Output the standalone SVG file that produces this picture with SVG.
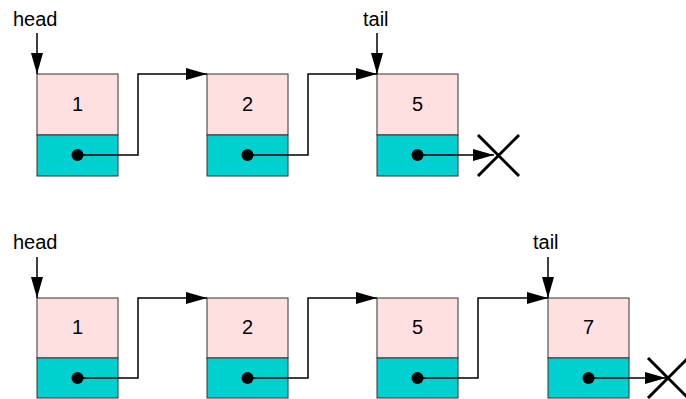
<svg xmlns="http://www.w3.org/2000/svg" width="686" height="399" viewBox="0 0 686 399">
<defs>
<marker id="ah" markerWidth="22" markerHeight="12" refX="21" refY="6" orient="auto" markerUnits="userSpaceOnUse">
<path d="M0,0 L21,6 L0,12 Z" fill="#000"/>
</marker>
<style>
.top{fill:#ffe0e0;stroke:#333;stroke-width:1}
.bot{fill:#00d0d0;stroke:#333;stroke-width:1}
.t{font-family:"Liberation Sans",Arial,sans-serif;font-size:20px;fill:#000}
.n{font-family:"Liberation Sans",Arial,sans-serif;font-size:20px;fill:#000;text-anchor:middle}
.c{fill:none;stroke:#000;stroke-width:1.5}
.x{stroke:#000;stroke-width:3}
</style>
</defs>
<g id="labels">
<text class="t" x="13" y="26">head</text>
<text class="t" x="363" y="26">tail</text>
<text class="t" x="13" y="249">head</text>
<text class="t" x="533" y="249">tail</text>
</g>
<g id="row1-node1"><rect class="top" x="37" y="74" width="81" height="61"/><rect class="bot" x="37" y="135" width="81" height="41"/><text class="n" x="77.5" y="111">1</text><circle cx="77.5" cy="155" r="6"/></g>
<g id="row1-node2"><rect class="top" x="207" y="74" width="81" height="61"/><rect class="bot" x="207" y="135" width="81" height="41"/><text class="n" x="247.5" y="111">2</text><circle cx="247.5" cy="155" r="6"/></g>
<g id="row1-node3"><rect class="top" x="377" y="74" width="81" height="61"/><rect class="bot" x="377" y="135" width="81" height="41"/><text class="n" x="417.5" y="111">5</text><circle cx="417.5" cy="155" r="6"/></g>
<g id="row1-null"><line class="x" x1="478" y1="135" x2="519" y2="176"/><line class="x" x1="519" y1="135" x2="478" y2="176"/></g>
<g id="row2-node1"><rect class="top" x="37" y="298" width="81" height="60"/><rect class="bot" x="37" y="358" width="81" height="40"/><text class="n" x="77.5" y="334">1</text><circle cx="77.5" cy="378" r="6"/></g>
<g id="row2-node2"><rect class="top" x="207" y="298" width="81" height="60"/><rect class="bot" x="207" y="358" width="81" height="40"/><text class="n" x="247.5" y="334">2</text><circle cx="247.5" cy="378" r="6"/></g>
<g id="row2-node3"><rect class="top" x="377" y="298" width="81" height="60"/><rect class="bot" x="377" y="358" width="81" height="40"/><text class="n" x="417.5" y="334">5</text><circle cx="417.5" cy="378" r="6"/></g>
<g id="row2-node4"><rect class="top" x="548" y="298" width="81" height="60"/><rect class="bot" x="548" y="358" width="81" height="40"/><text class="n" x="588.5" y="334">7</text><circle cx="588.5" cy="378" r="6"/></g>
<g id="row2-null"><line class="x" x1="648" y1="358" x2="688" y2="398"/><line class="x" x1="688" y1="358" x2="648" y2="398"/></g>
<g id="connectors">
<path class="c" d="M37,33 V74" marker-end="url(#ah)"/>
<path class="c" d="M377,33 V74" marker-end="url(#ah)"/>
<path class="c" d="M77.5,155 H138 V74 H207" marker-end="url(#ah)"/>
<path class="c" d="M247.5,155 H308 V74 H377" marker-end="url(#ah)"/>
<path class="c" d="M417.5,155 H494" marker-end="url(#ah)"/>
<path class="c" d="M37,257 V298" marker-end="url(#ah)"/>
<path class="c" d="M548,257 V298" marker-end="url(#ah)"/>
<path class="c" d="M77.5,378 H138 V298 H207" marker-end="url(#ah)"/>
<path class="c" d="M247.5,378 H308 V298 H377" marker-end="url(#ah)"/>
<path class="c" d="M417.5,378 H478 V298 H548" marker-end="url(#ah)"/>
<path class="c" d="M588.5,378 H666" marker-end="url(#ah)"/>
</g>
</svg>
